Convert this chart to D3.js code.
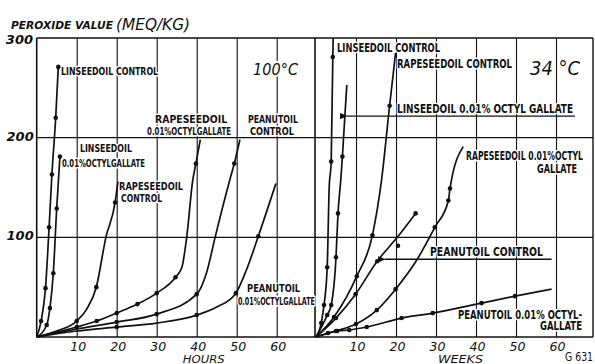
<!DOCTYPE html>
<html lang="en">
<head>
<meta charset="UTF-8">
<title>Peroxide value</title>
<script src="https://d3js.org/d3.v7.min.js"></script>
<style>
  body { margin: 0; background: #fff; overflow: hidden; }
  text { fill: #111; }
  .tick text { font-family: 'DejaVu Sans', sans-serif; font-style: italic; font-size: 12.5px; }
  .lbl { font-family: 'DejaVu Sans Condensed', sans-serif; font-weight: bold;
         stroke: #fff; stroke-width: 2.5px; paint-order: stroke; stroke-linejoin: round; }
  .big { font-family: 'DejaVu Sans', sans-serif; font-style: italic; stroke: #fff; stroke-width: 4px; paint-order: stroke; }
  .ital { font-family: 'DejaVu Sans', sans-serif; font-style: italic; }
</style>
</head>
<body>
<div id="chart"></div>
<script>
// [time, peroxide value, mark]  mark 1 = measured point, 0 = curve only, 2 = stray point
const hourTicks = [10, 20, 30, 40, 50, 60];
const weekTicks = [10, 20, 30, 40, 50, 60];
const pvTicks = [100, 200];

// 100 °C, hours
const linseedControl100 = [[0,0,0],[1.1,16,1],[2.2,49,1],[3.1,110,1],[3.8,163,1],[4.75,220,1],[5.4,271,1]];
const linseedGallate100 = [[0,0,0],[2.5,12,1],[3.3,29,1],[4.15,64,1],[5.0,129,1],[5.8,181,1]];
const rapeseedControl100 = [[0,0,0],[5,6,0],[10,16,1],[12.5,28,0],[14.9,50,1],[17.3,100,0],[19.6,135,1],[20.3,156,0]];
const rapeseedGallate100 = [[0,0,0],[10,10,1],[15,16,1],[20,24,1],[25.2,33,1],[30,44,1],[34.7,60,1],[36.3,70,0],[37.5,100,0],[39,157,0],[39.8,174,1],[40.9,198,0]];
const peanutControl100 = [[0,0,0],[10,8,0],[20,15,1],[30,23,1],[40,43,1],[42.5,65,0],[44.6,100,0],[48.3,158,0],[49.4,174,1],[50.8,198,0]];
const peanutGallate100 = [[0,0,0],[10,6,0],[20,10,1],[30,14,0],[40,22,1],[45,30,0],[49.8,44,1],[52.5,68,0],[55.4,101,1],[59.8,154,0]];

// 34 °C, weeks
const linseedControl34 = [[0,0,0],[1.3,14,1],[2.0,32,1],[2.8,70,1],[3.3,150,0],[3.8,176,1],[4.2,281,1],[4.3,300,0]];
const linseedGallate34 = [[0,0,0],[2.8,22,1],[3.8,32,1],[5.0,80,1],[5.5,124,1],[6.2,158,0],[6.6,181,1],[7.7,253,0]];
const rapeseedControl34 = [[0,0,0],[4.5,20,1],[10.2,61,1],[14.1,102,1],[16.4,158,0],[18.4,232,1],[19.9,285,0]];
const rapeseedGallate34 = [[0,0,0],[5,6,1],[10,13,1],[15.2,27,1],[19.9,48,1],[25,76,0],[29.7,110,1],[33.1,137,1],[33.5,149,1],[36.8,191,0]];
const peanutControl34 = [[0,0,0],[5,19,1],[9.9,43,1],[15.3,76,1],[20.3,100,0],[20.5,91.5,2],[24.9,124,1]];
const peanutGallate34 = [[0,0,0],[3,4,1],[5.3,6,1],[8.3,7,1],[12.7,10,1],[21.4,19,1],[29.2,24,1],[41.4,34,1],[49.75,41,1],[58.9,48,0]];

const hourSeries = [linseedControl100, linseedGallate100, rapeseedControl100, rapeseedGallate100, peanutControl100, peanutGallate100];
const weekSeries = [linseedControl34, linseedGallate34, rapeseedControl34, rapeseedGallate34, peanutControl34, peanutGallate34];

// labels: [text, time, pv, width]
const hourLabels = [
  ["LINSEEDOIL CONTROL", 6.1, 263, 97],
  ["LINSEEDOIL", 10.8, 185.6, 52],
  ["0.01%OCTYLGALLATE", 6.3, 170.5, 83],
  ["RAPESEEDOIL", 20.6, 147.4, 64],
  ["CONTROL", 21.1, 135.4, 41],
  ["RAPESEEDOIL", 29.6, 214.6, 72],
  ["0.01%OCTYLGALLATE", 27.6, 202.6, 84],
  ["PEANUTOIL", 52.8, 214.6, 50],
  ["CONTROL", 53.3, 202.6, 44],
  ["PEANUTOIL", 52.6, 45.1, 53],
  ["0.01%OCTYLGALLATE", 50.3, 32.1, 77]
];
const weekLabels = [
  ["LINSEEDOIL CONTROL", 5.25, 285.9, 103],
  ["RAPESEEDOIL CONTROL", 20.25, 269.8, 115],
  ["LINSEEDOIL  0.01% OCTYL GALLATE", 20.25, 224.7, 176],
  ["RAPESEEDOIL 0.01%OCTYL", 37.5, 178, 117],
  ["GALLATE", 55.25, 165, 40],
  ["PEANUTOIL CONTROL", 28.5, 81.2, 113],
  ["PEANUTOIL 0.01% OCTYL-", 35.5, 18.4, 124],
  ["GALLATE", 56, 7.3, 42]
];
// arrows: [from time, to time, pv]
const weekArrows = [[64.75, 7.75, 221.7], [58.9, 17.25, 78]];

const W = 595, H = 364;
const svg = d3.select("#chart").append("svg")
    .attr("width", W).attr("height", H);

const y = d3.scaleLinear().domain([0, 300]).range([337, 38]);
const xL = d3.scaleLinear().domain([0, 69.5]).range([36.7, 314.7]);
const xR = d3.scaleLinear().domain([0, 69.25]).range([316, 593]);

// pick a font size near the given width, then squeeze the glyphs to that width
function fit(sel, maxSize, width, squeeze = 1.1) {
  sel.style("font-size", maxSize + "px");
  const w = sel.node().getComputedTextLength();
  const s = Math.min(maxSize, maxSize * squeeze * width / w);
  sel.style("font-size", s.toFixed(2) + "px")
     .attr("textLength", width).attr("lengthAdjust", "spacingAndGlyphs");
  return s;
}

svg.append("defs").append("marker")
    .attr("id", "arr").attr("viewBox", "0 0 10 10")
    .attr("refX", 1).attr("refY", 5)
    .attr("markerWidth", 9).attr("markerHeight", 6)
    .attr("orient", "auto")
  .append("path").attr("d", "M10,1 L0,5 L10,9 Z").attr("fill", "#111");

// gridlines + x tick labels
function grid(x, ticks) {
  const g = svg.append("g").attr("transform", "translate(0,337)")
    .call(d3.axisBottom(x).tickValues(ticks).tickSize(-(337 - 38)).tickPadding(4));
  g.select(".domain").remove();
  g.selectAll(".tick line").attr("stroke", "#111").attr("stroke-width", 1.1);
  g.selectAll(".tick text").attr("dy", "0.78em").attr("dx", 1);
}
grid(xL, hourTicks);
grid(xR, weekTicks);

const gy = svg.append("g")
  .call(d3.axisLeft(y).tickValues(pvTicks).tickSize(0).tickPadding(3))
  .attr("transform", "translate(36.7,0)");
gy.select(".domain").remove();
gy.selectAll(".tick text").attr("x", -3).attr("dy", "0.2em")
  .style("font-weight", "bold").style("font-size", "13px");
svg.append("g").selectAll("line").data(pvTicks).join("line")
  .attr("x1", 36.7).attr("x2", 593)
  .attr("y1", d => y(d)).attr("y2", d => y(d))
  .attr("stroke", "#111").attr("stroke-width", 1.1);
svg.append("text").attr("class", "ital").attr("x", 33).attr("y", y(300) + 5.5)
  .attr("text-anchor", "end")
  .style("font-size", "13px").style("font-weight", "bold").text("300");

// frame
const frame = svg.append("g").attr("stroke", "#111").attr("fill", "none");
frame.append("line").attr("x1", 36.7).attr("x2", 593).attr("y1", y(300)).attr("y2", y(300)).attr("stroke-width", 1.6);
frame.append("line").attr("x1", 36.7).attr("x2", 593).attr("y1", y(0)).attr("y2", y(0)).attr("stroke-width", 1.6);
frame.append("line").attr("x1", 36.7).attr("x2", 36.7).attr("y1", y(300)).attr("y2", y(0)).attr("stroke-width", 1.6);
frame.append("line").attr("x1", 315).attr("x2", 315).attr("y1", y(300)).attr("y2", y(0)).attr("stroke-width", 1.6);
frame.append("line").attr("x1", 593).attr("x2", 593).attr("y1", y(300)).attr("y2", y(0)).attr("stroke-width", 1.4);

// annotations: narrow hand lettering, so stretch the fitted text vertically
function labels(x, rows, size, cap) {
  svg.append("g").selectAll("text").data(rows).join("text")
    .attr("class", "lbl")
    .attr("x", 0).attr("y", 0)
    .text(d => d[0])
    .each(function (d) {
      const t = d3.select(this);
      const s = fit(t, size, d[3]);
      const sy = Math.max(1, cap / (0.73 * s));
      t.attr("transform", `translate(${x(d[1])},${y(d[2])}) scale(1,${sy.toFixed(3)})`);
    });
}
labels(xL, hourLabels, 11, 8);
labels(xR, weekLabels, 12, 8.6);

svg.append("g").selectAll("line").data(weekArrows).join("line")
  .attr("x1", d => xR(d[0])).attr("x2", d => xR(d[1]))
  .attr("y1", d => y(d[2])).attr("y2", d => y(d[2]))
  .attr("stroke", "#111").attr("stroke-width", 1.3)
  .attr("marker-end", "url(#arr)");

fit(svg.append("text").attr("class", "big").attr("x", 253).attr("y", 75).text("100°C"), 20, 45);
fit(svg.append("text").attr("class", "big").attr("x", 530).attr("y", 75).text("34 °C"), 20, 50);

// axis titles
fit(svg.append("text").attr("class", "ital").attr("x", 11).attr("y", 29)
  .style("font-weight", "bold").text("PEROXIDE VALUE"), 11, 102);
fit(svg.append("text").attr("class", "ital").attr("x", 116).attr("y", 30).text("(MEQ/KG)"), 15, 74);
fit(svg.append("text").attr("class", "ital").attr("x", xL(36.5)).attr("y", 363).text("HOURS"), 10, 42);
fit(svg.append("text").attr("class", "ital").attr("x", xR(30.5)).attr("y", 363).text("WEEKS"), 10, 45);
fit(svg.append("text").attr("x", 565).attr("y", 361)
  .style("font-family", "'DejaVu Sans Condensed', sans-serif").text("G 631"), 12, 28);

// curves and points
function curves(x, series) {
  const line = d3.line().x(d => x(d[0])).y(d => y(d[1])).curve(d3.curveMonotoneX);
  const g = svg.append("g");
  g.selectAll("path").data(series).join("path")
    .attr("d", s => line(s.filter(p => p[2] !== 2)))
    .attr("fill", "none").attr("stroke", "#111").attr("stroke-width", 1.7);
  g.selectAll("circle").data(series.flatMap(s => s.filter(p => p[2] > 0))).join("circle")
    .attr("cx", d => x(d[0])).attr("cy", d => y(d[1])).attr("r", 2.3).attr("fill", "#111");
}
curves(xL, hourSeries);
curves(xR, weekSeries);
</script>
</body>
</html>
